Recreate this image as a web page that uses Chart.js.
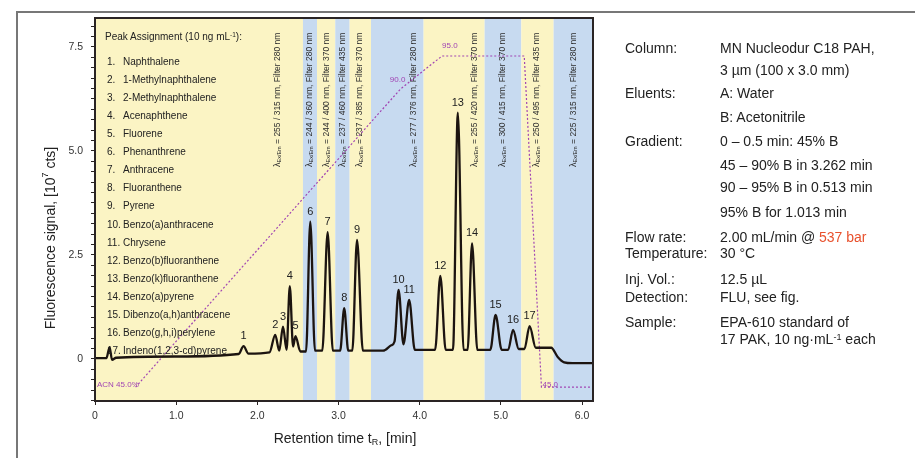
<!DOCTYPE html>
<html>
<head>
<meta charset="utf-8">
<script src="https://cdn.jsdelivr.net/npm/chart.js@4.4.1/dist/chart.umd.min.js"></script>
<style>
  body { margin: 0; background: #fff; }
  #wrap { position: relative; width: 915px; height: 458px; overflow: hidden;
          font-family: 'Liberation Sans', Arial, sans-serif; color: #2b2b2b; }
  #chart { position: absolute; left: 0; top: 0; }
  .peaks { position: absolute; left: 0; top: 0; font-size: 10px; color: #222; }
  .peaks div { position: absolute; white-space: nowrap; line-height: 12px; }
  .peaks span { display: inline-block; width: 16px; }
  .panel { position: absolute; left: 0; top: 0; font-size: 14px; color: #222; }
  .panel div { position: absolute; white-space: nowrap; line-height: 16px; }
  sup { font-size: 65%; vertical-align: 0.45em; line-height: 0; }
  .red { color: #e8512d; }
</style>
</head>
<body>
<div id="wrap">
  <canvas id="chart" width="915" height="458"></canvas>
  <div class="peaks" id="peaks"></div>
  <div class="panel">
    <div style="left:625px;top:40px">Column:</div>
    <div style="left:720px;top:40px">MN Nucleodur C18 PAH,</div>
    <div style="left:720px;top:62px">3 µm (100 x 3.0 mm)</div>
    <div style="left:625px;top:85px">Eluents:</div>
    <div style="left:720px;top:85px">A: Water</div>
    <div style="left:720px;top:109px">B: Acetonitrile</div>
    <div style="left:625px;top:133px">Gradient:</div>
    <div style="left:720px;top:133px">0 – 0.5 min: 45% B</div>
    <div style="left:720px;top:157px">45 – 90% B in 3.262 min</div>
    <div style="left:720px;top:179px">90 – 95% B in 0.513 min</div>
    <div style="left:720px;top:204px">95% B for 1.013 min</div>
    <div style="left:625px;top:229px">Flow rate:</div>
    <div style="left:720px;top:229px">2.00 mL/min @ <span class="red">537 bar</span></div>
    <div style="left:625px;top:245px">Temperature:</div>
    <div style="left:720px;top:245px">30 °C</div>
    <div style="left:625px;top:271px">Inj. Vol.:</div>
    <div style="left:720px;top:271px">12.5 µL</div>
    <div style="left:625px;top:289px">Detection:</div>
    <div style="left:720px;top:289px">FLU, see fig.</div>
    <div style="left:625px;top:314px">Sample:</div>
    <div style="left:720px;top:314px">EPA-610 standard of</div>
    <div style="left:720px;top:331px">17 PAK, 10 ng·mL<sup>-1</sup> each</div>
  </div>
</div>
<script>
// peaks (retention time in min, height in 10^7 cts)
const peakNo = [1, 2, 3, 4, 5, 6, 7, 8, 9, 10, 11, 12, 13, 14, 15, 16, 17];
const peakNames = ['Naphthalene', '1-Methylnaphthalene', '2-Methylnaphthalene', 'Acenaphthene',
  'Fluorene', 'Phenanthrene', 'Anthracene', 'Fluoranthene', 'Pyrene', 'Benzo(a)anthracene',
  'Chrysene', 'Benzo(b)fluoranthene', 'Benzo(k)fluoranthene', 'Benzo(a)pyrene',
  'Dibenzo(a,h)anthracene', 'Benzo(g,h,i)perylene', 'Indeno(1,2,3-cd)pyrene'];
const peakT = [1.83, 2.22, 2.316, 2.40, 2.47, 2.652, 2.866, 3.07, 3.228, 3.74, 3.87, 4.254, 4.47, 4.645, 4.935, 5.15, 5.354];
const peakV = [0.31, 0.58, 0.78, 1.75, 0.55, 3.30, 3.05, 1.22, 2.86, 1.66, 1.42, 2.00, 5.92, 2.78, 1.06, 0.70, 0.79];

// baseline, valleys and the small front spike of the trace
const baseT = [0, 0.14, 0.18, 0.21, 0.26, 1.0, 1.77, 1.89, 2.15, 2.27, 2.36, 2.44, 2.53, 2.60, 2.71, 2.80,
  2.93, 3.02, 3.12, 3.17, 3.30, 3.55, 3.65, 3.69, 3.80, 3.94, 4.19, 4.32, 4.41, 4.54, 4.59, 4.71,
  4.87, 5.01, 5.09, 5.22, 5.29, 5.43, 5.62, 5.70, 5.78, 5.88, 6.135];
const baseV = [0.02, 0.02, 0.28, -0.02, 0.03, 0.06, 0.12, 0.13, 0.16, 0.20, 0.22, 0.30, 0.18, 0.18, 0.20, 0.20,
  0.20, 0.20, 0.20, 0.20, 0.20, 0.20, 0.33, 0.42, 0.35, 0.22, 0.22, 0.22, 0.22, 0.22, 0.22, 0.22,
  0.22, 0.22, 0.22, 0.24, 0.24, 0.27, 0.27, 0.05, -0.08, -0.10, -0.10];

// gradient program (% acetonitrile)
const gradT = [0.5, 3.762, 4.275, 5.288, 5.50, 6.135];
const gradB = [45, 90, 95, 95, 45, 45];

// detector program windows (min) and their wavelength settings
const bandEdges = [0, 2.562, 2.735, 2.96, 3.137, 3.40, 4.048, 4.80, 5.252, 5.65, 6.135];
const filterT = [2.246, 2.640, 2.850, 3.047, 3.256, 3.921, 4.673, 5.018, 5.437, 5.893];
const filterText = ['255 / 315 nm, Filter 280 nm', '244 / 360 nm, Filter 280 nm', '244 / 400 nm, Filter 370 nm',
  '237 / 460 nm, Filter 435 nm', '237 / 385 nm, Filter 370 nm', '277 / 376 nm, Filter 280 nm',
  '255 / 420 nm, Filter 370 nm', '300 / 415 nm, Filter 370 nm', '250 / 495 nm, Filter 435 nm',
  '225 / 315 nm, Filter 280 nm'];

const FONT = "'Liberation Sans', Arial, sans-serif";
const F = s => s + 'px ' + FONT;
const YELLOW = '#fbf4c4', BLUE = '#c7daf0', INK = '#222', PURPLE = '#a145b3';

// peak list in the plot
const list = document.getElementById('peaks');
let html = '<div style="left:105px;top:31px">Peak Assignment (10 ng mL<sup>-1</sup>):</div>';
peakNames.forEach((n, i) => {
  html += `<div style="left:107px;top:${55.5 + i * 18.12}px"><span>${peakNo[i]}.</span>${n}</div>`;
});
list.innerHTML = html;

const trace = baseT.map((t, i) => ({x: t, y: baseV[i]}))
  .concat(peakT.map((t, i) => ({x: t, y: peakV[i]})))
  .sort((a, b) => a.x - b.x);
const gradient = gradT.map((t, i) => ({x: t, y: gradB[i]}));

const decor = {
  id: 'decor',
  beforeDraw(chart) {
    const {ctx, chartArea: a, scales: {x}} = chart;
    ctx.save();
    for (let i = 0; i < bandEdges.length - 1; i++) {
      const x0 = x.getPixelForValue(bandEdges[i]);
      const x1 = x.getPixelForValue(bandEdges[i + 1]);
      ctx.fillStyle = i % 2 ? BLUE : YELLOW;
      ctx.fillRect(x0, a.top, x1 - x0, a.bottom - a.top);
    }
    ctx.restore();
  },
  beforeDatasetsDraw(chart) {
    const {ctx, scales: {x}} = chart;
    ctx.save();
    ctx.fillStyle = '#2e2e2e';
    ctx.textBaseline = 'middle';
    filterT.forEach((t, i) => {
      ctx.save();
      ctx.translate(x.getPixelForValue(t), 167);
      ctx.rotate(-Math.PI / 2);
      ctx.font = F(9);
      ctx.fillText('λ', 0, 0);
      let w = ctx.measureText('λ').width;
      ctx.font = F(5.5);
      ctx.fillText('Ex/Em', w, 2);
      w += ctx.measureText('Ex/Em').width;
      ctx.font = F(8.5);
      ctx.fillText(' = ' + filterText[i], w, 0);
      ctx.restore();
    });
    ctx.restore();
  },
  afterDatasetsDraw(chart) {
    const {ctx, chartArea: a, scales: {x, y, y2}} = chart;
    ctx.save();
    // peak numbers
    ctx.fillStyle = INK;
    ctx.font = F(11);
    ctx.textAlign = 'center';
    ctx.textBaseline = 'middle';
    peakT.forEach((t, i) => {
      ctx.fillText(String(peakNo[i]), x.getPixelForValue(t), y.getPixelForValue(peakV[i]) - 10);
    });
    // gradient labels
    ctx.fillStyle = PURPLE;
    ctx.font = F(8);
    ctx.textBaseline = 'bottom';
    const gp = i => [x.getPixelForValue(gradT[i]), y2.getPixelForValue(gradB[i])];
    let [px, py] = gp(0);
    ctx.textAlign = 'left';
    ctx.fillText('ACN 45.0%', a.left + 2, py + 2);
    [px, py] = gp(1);
    ctx.textAlign = 'right';
    ctx.fillText('90.0', px + 5, py - 5);
    [px, py] = gp(2);
    ctx.textAlign = 'left';
    ctx.fillText('95.0', px, py - 6);
    [px, py] = gp(4);
    ctx.fillText('45.0', px + 1, py + 2);
    // frame
    ctx.strokeStyle = '#2a2424';
    ctx.lineWidth = 2;
    ctx.strokeRect(a.left, a.top, a.right - a.left, a.bottom - a.top);
    ctx.restore();
  },
  afterDraw(chart) {
    const {ctx} = chart;
    ctx.save();
    ctx.fillStyle = INK;
    ctx.textBaseline = 'middle';
    // y title
    ctx.save();
    ctx.translate(51, 238);
    ctx.rotate(-Math.PI / 2);
    const p1 = 'Fluorescence signal, [10', p2 = '7', p3 = ' cts]';
    ctx.font = F(14);
    const w1 = ctx.measureText(p1).width, w3 = ctx.measureText(p3).width;
    ctx.font = F(9);
    const w2 = ctx.measureText(p2).width;
    let s = -(w1 + w2 + w3) / 2;
    ctx.font = F(14); ctx.textAlign = 'left';
    ctx.fillText(p1, s, 0);
    ctx.font = F(9); ctx.fillText(p2, s + w1, -5);
    ctx.font = F(14); ctx.fillText(p3, s + w1 + w2, 0);
    ctx.restore();
    // x title
    const q1 = 'Retention time t', q2 = 'R', q3 = ', [min]';
    ctx.font = F(14);
    const v1 = ctx.measureText(q1).width, v3 = ctx.measureText(q3).width;
    ctx.font = F(9);
    const v2 = ctx.measureText(q2).width;
    s = 345 - (v1 + v2 + v3) / 2;
    ctx.textAlign = 'left';
    ctx.font = F(14); ctx.fillText(q1, s, 439);
    ctx.font = F(9); ctx.fillText(q2, s + v1, 443);
    ctx.font = F(14); ctx.fillText(q3, s + v1 + v2, 439);
    // picture border
    ctx.strokeStyle = '#777';
    ctx.lineWidth = 2;
    ctx.beginPath();
    ctx.moveTo(17, 470); ctx.lineTo(17, 12); ctx.lineTo(915, 12);
    ctx.stroke();
    ctx.restore();
  }
};

Chart.defaults.font.family = FONT;

new Chart(document.getElementById('chart'), {
  type: 'line',
  data: {
    datasets: [
      {
        label: 'FLU signal',
        data: trace,
        borderColor: '#1c1410',
        borderWidth: 2.3,
        pointRadius: 0,
        cubicInterpolationMode: 'monotone',
        yAxisID: 'y'
      },
      {
        label: 'ACN %',
        data: gradient,
        borderColor: PURPLE,
        borderWidth: 1.2,
        borderDash: [2, 2],
        pointRadius: 0,
        tension: 0,
        yAxisID: 'y2'
      }
    ]
  },
  options: {
    responsive: false,
    devicePixelRatio: 1,
    animation: false,
    layout: { padding: { left: 0, top: 18, right: 322, bottom: 0 } },
    plugins: { legend: { display: false }, tooltip: { enabled: false } },
    scales: {
      x: {
        type: 'linear',
        min: 0,
        max: 6.135,
        afterFit: s => { s.height = 57; },
        grid: { drawOnChartArea: false, tickLength: 4, color: '#2a2424' },
        border: { color: '#2a2424', width: 2 },
        ticks: {
          stepSize: 1,
          includeBounds: false,
          autoSkip: false,
          maxRotation: 0,
          padding: 5,
          color: '#333',
          font: { size: 10.5 },
          callback: v => v === 0 ? '0' : v.toFixed(1)
        }
      },
      y: {
        min: -1.01,
        max: 8.197,
        afterFit: s => { s.width = 95; },
        grid: { drawOnChartArea: false, tickLength: 4, color: '#2a2424' },
        border: { color: '#2a2424', width: 2 },
        ticks: {
          stepSize: 0.25,
          includeBounds: false,
          autoSkip: false,
          padding: 8,
          color: '#333',
          font: { size: 10.5 },
          callback: v => (v >= 0 && Math.abs(v / 2.5 - Math.round(v / 2.5)) < 1e-6)
            ? (v === 0 ? '0' : v.toFixed(1)) : ''
        }
      },
      y2: { display: false, min: 42.89, max: 100.74 }
    }
  },
  plugins: [decor]
});
</script>
</body>
</html>
